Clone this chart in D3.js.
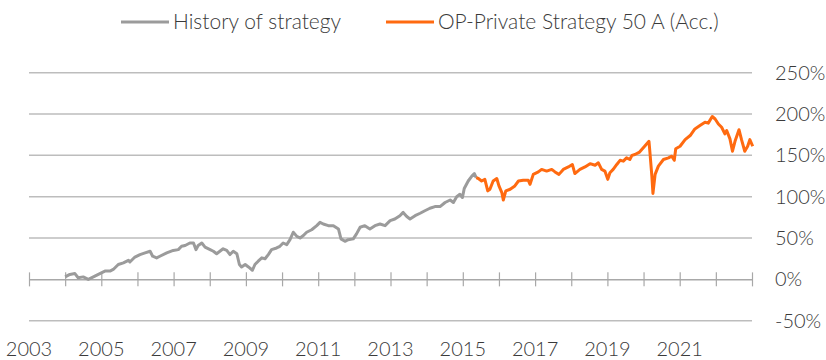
<!DOCTYPE html>
<html>
<head>
<meta charset="utf-8">
<script src="https://cdn.jsdelivr.net/npm/d3@7"></script>
<style>
  html, body { margin: 0; padding: 0; background: #ffffff; }
  svg { display: block; }
  text { font-family: Lato, "Noto Sans", sans-serif; font-weight: 300; fill: #3a3a3a; }
</style>
</head>
<body>
<svg id="chart" width="826" height="360"></svg>
<script>
// Cumulative return (%) — back-tested history of the strategy
const historyYears = [
  2004.00, 2004.13, 2004.27, 2004.36, 2004.50, 2004.64, 2004.78, 2004.96,
  2005.10, 2005.24, 2005.33, 2005.47, 2005.61, 2005.75, 2005.79, 2005.93,
  2006.07, 2006.21, 2006.35, 2006.42, 2006.53, 2006.62, 2006.81, 2006.99,
  2007.13, 2007.22, 2007.32, 2007.45, 2007.55, 2007.62, 2007.68, 2007.78, 2007.87,
  2008.01, 2008.10, 2008.19, 2008.28, 2008.37, 2008.47, 2008.56, 2008.65, 2008.75,
  2008.82, 2008.88, 2008.98, 2009.07, 2009.18, 2009.25, 2009.34, 2009.44,
  2009.53, 2009.62, 2009.71, 2009.85, 2009.94, 2010.03, 2010.13, 2010.22,
  2010.31, 2010.41, 2010.50, 2010.59, 2010.68, 2010.82, 2010.96, 2011.05,
  2011.14, 2011.28, 2011.42, 2011.56, 2011.63, 2011.74, 2011.83, 2011.97,
  2012.06, 2012.16, 2012.29, 2012.43, 2012.57, 2012.71, 2012.85, 2012.99,
  2013.12, 2013.26, 2013.35, 2013.45, 2013.54, 2013.68, 2013.82, 2013.95,
  2014.09, 2014.23, 2014.37, 2014.51, 2014.65, 2014.74, 2014.83, 2014.92,
  2014.99, 2015.04, 2015.15, 2015.25, 2015.32, 2015.37
];
const historyValues = [
  3, 6, 7, 2, 3, 0, 3, 7,
  10, 10, 12, 18, 20, 23, 21, 27,
  30, 32, 34, 28, 26, 28, 32, 35,
  36, 40, 41, 44, 44, 36, 41, 44, 39,
  36, 34, 31, 34, 37, 35, 30, 34, 31,
  18, 15, 18, 15, 11, 18, 22, 26,
  25, 30, 36, 38, 40, 44, 42, 48,
  57, 52, 50, 53, 57, 60, 65, 69,
  67, 65, 65, 61, 49, 46, 48, 49,
  55, 63, 65, 61, 65, 67, 65, 71,
  73, 77, 81, 76, 73, 77, 80, 83,
  86, 88, 88, 93, 96, 93, 100, 103,
  99, 110, 119, 125, 128, 123
];

// Cumulative return (%) — OP-Private Strategy 50 A (Acc.)
const fundYears = [
  2015.37, 2015.43, 2015.52, 2015.61, 2015.69, 2015.75, 2015.84, 2015.94,
  2016.00, 2016.08, 2016.12, 2016.19, 2016.31, 2016.44, 2016.54, 2016.67,
  2016.81, 2016.86, 2016.95, 2017.09, 2017.18, 2017.32, 2017.46, 2017.55,
  2017.66, 2017.78, 2017.92, 2018.03, 2018.10, 2018.24, 2018.38, 2018.52,
  2018.66, 2018.75, 2018.84, 2018.93, 2019.01, 2019.07, 2019.16, 2019.26,
  2019.35, 2019.44, 2019.53, 2019.62, 2019.68, 2019.76, 2019.89, 2020.03,
  2020.15, 2020.17, 2020.23, 2020.26, 2020.32, 2020.41, 2020.55, 2020.69,
  2020.78, 2020.85, 2020.89, 2021.01, 2021.15, 2021.29, 2021.42, 2021.56,
  2021.70, 2021.79, 2021.90, 2021.98, 2022.07, 2022.16, 2022.25, 2022.30,
  2022.39, 2022.46, 2022.53, 2022.64, 2022.71, 2022.80, 2022.88, 2022.94, 2023.02
];
const fundValues = [
  123, 122, 119, 121, 107, 109, 119, 122,
  113, 105, 96, 107, 109, 113, 119, 120,
  120, 115, 127, 130, 133, 131, 133, 130,
  127, 133, 136, 139, 128, 133, 136, 140,
  138, 141, 133, 131, 121, 129, 133, 139,
  144, 143, 147, 145, 150, 151, 154, 161,
  167, 157, 125, 104, 127, 137, 145, 147,
  149, 144, 158, 161, 169, 174, 182, 186,
  190, 189, 197, 194, 188, 184, 176, 180,
  170, 155, 167, 181, 169, 155, 161, 169, 161
];

const yTicks = [-50, 0, 50, 100, 150, 200, 250];
const yearTicks = d3.range(2003, 2024);
const yearLabels = [2003, 2005, 2007, 2009, 2011, 2013, 2015, 2017, 2019, 2021];

const seriesNames = ["History of strategy", "OP-Private Strategy 50 A (Acc.)"];
const seriesColors = ["#9b9b9b", "#ff6a10"];

const svg = d3.select("#chart");

const x = d3.scaleLinear().domain([2003, 2023]).range([29, 752]);
const y = d3.scaleLinear().domain([-50, 250]).range([320.7, 72.7]);

// Horizontal gridlines (the 0% line is drawn by the year axis)
svg.append("g")
  .selectAll("line")
  .data(yTicks.filter(d => d !== 0))
  .join("line")
  .attr("x1", x.range()[0]).attr("x2", x.range()[1])
  .attr("y1", d => y(d)).attr("y2", d => y(d))
  .attr("stroke", "#bdbdbd")
  .attr("stroke-width", 1.5);

// Right-hand percentage labels
svg.append("g")
  .selectAll("text")
  .data(yTicks)
  .join("text")
  .attr("x", 775)
  .attr("y", d => y(d))
  .attr("dy", "0.35em")
  .attr("font-size", 20)
  .text(d => (d < 0 ? "-" + Math.abs(d) : d) + "%");

// Year axis on the 0% line, ticks crossing it
const xAxis = d3.axisBottom(x)
  .tickValues(yearTicks)
  .tickSize(0)
  .tickFormat("");
const axisG = svg.append("g")
  .attr("transform", `translate(0,${y(0)})`)
  .call(xAxis);
axisG.select(".domain").attr("stroke", "#a8a8a8").attr("stroke-width", 1.5);
axisG.selectAll(".tick line")
  .attr("y1", -7).attr("y2", 7)
  .attr("stroke", "#a8a8a8")
  .attr("stroke-width", 1.2);

// Year labels along the bottom
svg.append("g")
  .selectAll("text")
  .data(yearLabels)
  .join("text")
  .attr("x", d => x(d))
  .attr("y", 356)
  .attr("text-anchor", "middle")
  .attr("font-size", 20)
  .text(d => d);

// Series lines
const line = d3.line()
  .x(d => x(d[0]))
  .y(d => y(d[1]))
  .curve(d3.curveLinear);

const histData = d3.zip(historyYears, historyValues);
const fundData = d3.zip(fundYears, fundValues);

svg.append("path")
  .datum(histData)
  .attr("d", line)
  .attr("fill", "none")
  .attr("stroke", seriesColors[0])
  .attr("stroke-width", 3)
  .attr("stroke-linejoin", "round");

svg.append("path")
  .datum(fundData)
  .attr("d", line)
  .attr("fill", "none")
  .attr("stroke", seriesColors[1])
  .attr("stroke-width", 3)
  .attr("stroke-linejoin", "round");

// Legend
const legendItems = [
  { name: seriesNames[0], color: seriesColors[0], x0: 121 },
  { name: seriesNames[1], color: seriesColors[1], x0: 386 }
];
const lg = svg.append("g");
legendItems.forEach(it => {
  lg.append("line")
    .attr("x1", it.x0).attr("x2", it.x0 + 48)
    .attr("y1", 22).attr("y2", 22)
    .attr("stroke", it.color)
    .attr("stroke-width", 3);
  lg.append("text")
    .attr("x", it.x0 + 52)
    .attr("y", 22)
    .attr("dy", "0.35em")
    .attr("font-size", 21)
    .text(it.name);
});
</script>
</body>
</html>
